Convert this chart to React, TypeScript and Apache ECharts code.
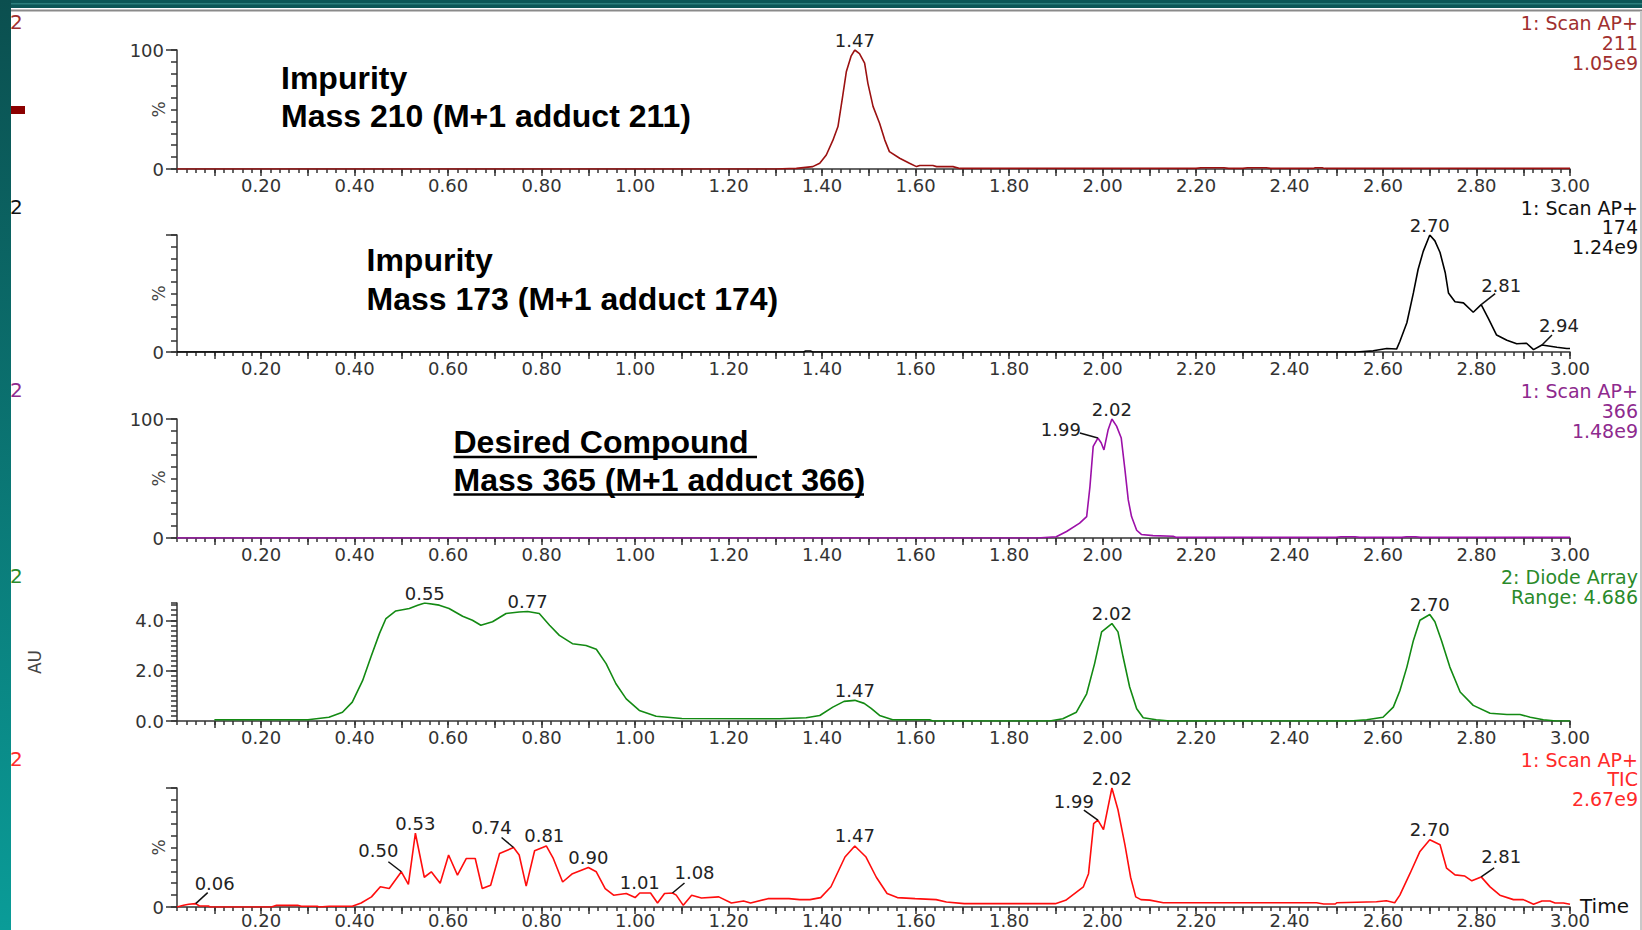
import React, { useEffect, useRef } from 'react';
import * as echarts from 'echarts';

// ---------- data: [retention time (min), response] ----------

// time axis labels / tick values
const timeLabelValues = [0.2, 0.4, 0.6, 0.8, 1.0, 1.2, 1.4, 1.6, 1.8, 2.0, 2.2, 2.4, 2.6, 2.8, 3.0];
const timeMajorTicks = [0.1, 0.2, 0.3, 0.4, 0.5, 0.6, 0.7, 0.8, 0.9, 1.0, 1.1, 1.2, 1.3, 1.4, 1.5, 1.6, 1.7, 1.8, 1.9, 2.0, 2.1, 2.2, 2.3, 2.4, 2.5, 2.6, 2.7, 2.8, 2.9, 3.0];

// 1: Scan AP+ 211 (%)
const scan211: [number, number][] = [
  [0.02, 0], [1.3, 0], [1.345, 0.5], [1.38, 2], [1.395, 4.8], [1.409, 11.8], [1.423, 24], [1.434, 35.7],
  [1.444, 61], [1.452, 82], [1.462, 94.8], [1.47, 100], [1.48, 97], [1.491, 89], [1.498, 72], [1.509, 52.6],
  [1.523, 38.5], [1.534, 24.5], [1.544, 14.6], [1.566, 9], [1.587, 4.8], [1.602, 2], [1.609, 3], [1.637, 3],
  [1.645, 2], [1.68, 2], [1.695, 0.5], [2.2, 0.5], [2.21, 1], [2.26, 1], [2.27, 0.5], [2.3, 0.5], [2.31, 1],
  [2.35, 1], [2.36, 0.5], [2.45, 0.5], [2.455, 1], [2.47, 1], [2.475, 0.5], [3.0, 0.5],
];
const scan211Peaks = [1.47];

// 1: Scan AP+ 174 (%)
const scan174: [number, number][] = [
  [0.02, 0], [1.36, 0], [1.365, 0.8], [1.375, 0.8], [1.38, 0], [2.543, 0], [2.579, 1], [2.608, 3],
  [2.629, 2.5], [2.636, 9], [2.651, 25], [2.665, 50.5], [2.675, 70.5], [2.686, 86], [2.7, 100], [2.711, 95],
  [2.722, 85], [2.733, 68], [2.74, 50.5], [2.754, 43], [2.772, 42], [2.793, 34], [2.81, 40.5], [2.825, 29],
  [2.843, 14.5], [2.865, 10], [2.886, 7], [2.907, 7.5], [2.922, 2], [2.94, 6], [2.972, 4], [2.993, 3], [3.0, 3],
];
const scan174Peaks = [2.7, 2.81, 2.94];

// 1: Scan AP+ 366 (%)
const scan366: [number, number][] = [
  [0.02, 0], [1.86, 0], [1.901, 1], [1.923, 5.5], [1.951, 12.5], [1.966, 18], [1.973, 43], [1.98, 77],
  [1.99, 84], [1.997, 80], [2.003, 74], [2.012, 91], [2.02, 100], [2.03, 94], [2.04, 84], [2.048, 57],
  [2.055, 32], [2.062, 18], [2.073, 6.5], [2.083, 3], [2.108, 2], [2.151, 1.5], [2.158, 0.5], [2.5, 0.5],
  [2.51, 1], [2.54, 1], [2.55, 0.5], [2.64, 0.5], [2.65, 1], [2.67, 1], [2.68, 0.5], [3.0, 0.5],
];
const scan366Peaks = [1.99, 2.02];

// 2: Diode Array (AU)
const diodeArray: [number, number][] = [
  [0.1, 0.05], [0.3, 0.05], [0.345, 0.15], [0.374, 0.35], [0.395, 0.75], [0.417, 1.6], [0.435, 2.55],
  [0.453, 3.47], [0.467, 4.07], [0.488, 4.37], [0.517, 4.47], [0.535, 4.6], [0.55, 4.686], [0.581, 4.6],
  [0.602, 4.47], [0.631, 4.16], [0.652, 4.0], [0.67, 3.8], [0.695, 3.94], [0.724, 4.27], [0.752, 4.33],
  [0.77, 4.35], [0.795, 4.27], [0.817, 3.8], [0.838, 3.4], [0.866, 3.07], [0.895, 3.0], [0.917, 2.85],
  [0.938, 2.28], [0.959, 1.48], [0.981, 0.88], [1.009, 0.42], [1.045, 0.19], [1.1, 0.1], [1.309, 0.09],
  [1.366, 0.13], [1.395, 0.22], [1.423, 0.55], [1.447, 0.78], [1.47, 0.82], [1.49, 0.7], [1.505, 0.5],
  [1.523, 0.22], [1.551, 0.05], [1.63, 0.05], [1.637, 0], [1.887, 0], [1.915, 0.09], [1.944, 0.35],
  [1.966, 1.08], [1.983, 2.28], [1.998, 3.54], [2.02, 3.87], [2.033, 3.54], [2.044, 2.54], [2.058, 1.35],
  [2.073, 0.49], [2.087, 0.13], [2.115, 0.05], [2.144, 0], [2.529, 0], [2.565, 0.05], [2.6, 0.15],
  [2.622, 0.55], [2.636, 1.2], [2.651, 2.14], [2.665, 3.2], [2.679, 4.0], [2.7, 4.23], [2.711, 3.94],
  [2.725, 3.2], [2.743, 2.14], [2.765, 1.15], [2.793, 0.62], [2.829, 0.31], [2.865, 0.26], [2.893, 0.26],
  [2.915, 0.15], [2.943, 0.05], [2.97, 0], [3.0, 0],
];
const diodePeaks = [0.55, 0.77, 1.47, 2.02, 2.7];

// 1: Scan AP+ TIC (%)
const tic: [number, number][] = [
  [0.02, 0], [0.034, 1.4], [0.045, 2.3], [0.06, 2.8], [0.068, 0.8], [0.087, 0.8], [0.091, 0], [0.222, 0],
  [0.233, 1.4], [0.278, 1.4], [0.286, 0.6], [0.32, 0.6], [0.324, 0], [0.346, 0.6], [0.395, 0.6], [0.414, 3.4],
  [0.436, 8.5], [0.455, 17], [0.474, 15.5], [0.5, 29.6], [0.515, 19], [0.53, 62], [0.549, 25], [0.564, 29.6],
  [0.583, 20], [0.601, 43.7], [0.62, 26.8], [0.639, 40.8], [0.658, 40.8], [0.673, 15.5], [0.691, 18.3],
  [0.71, 45], [0.74, 50], [0.752, 43.7], [0.767, 17.5], [0.785, 47.3], [0.81, 51.3], [0.825, 40.8],
  [0.845, 21], [0.866, 28], [0.9, 33.2], [0.917, 29.6], [0.936, 15.5], [0.954, 9.9], [0.981, 11.3],
  [1.0, 7.9], [1.01, 11.8], [1.033, 11.8], [1.048, 3.4], [1.063, 11.3], [1.08, 11.8], [1.088, 10],
  [1.103, 1.4], [1.121, 9.9], [1.142, 7.6], [1.179, 8.5], [1.206, 3.4], [1.232, 5], [1.247, 3.4],
  [1.284, 7], [1.329, 7], [1.352, 6.2], [1.374, 6.2], [1.397, 7.9], [1.419, 17], [1.449, 42], [1.47, 51.3],
  [1.494, 42], [1.516, 25], [1.539, 11.3], [1.561, 7.9], [1.599, 7], [1.644, 6.2], [1.666, 4.2], [1.704, 2.8],
  [1.899, 2.8], [1.921, 5.6], [1.959, 17], [1.97, 28], [1.981, 70], [1.99, 73], [2.002, 65], [2.02, 100],
  [2.033, 81.7], [2.048, 52], [2.06, 25], [2.071, 8.5], [2.082, 6.2], [2.101, 5.8], [2.13, 3.6], [2.458, 3.6],
  [2.473, 2.5], [2.498, 2.5], [2.501, 3.6], [2.586, 4.4], [2.607, 5.3], [2.625, 3.6], [2.636, 10],
  [2.658, 28.4], [2.679, 46.7], [2.7, 56.5], [2.722, 52.3], [2.736, 32.6], [2.754, 27], [2.775, 26],
  [2.79, 22], [2.81, 25.3], [2.829, 16.9], [2.85, 9.9], [2.879, 6.2], [2.9, 6.2], [2.922, 2.3], [2.94, 5.1],
  [2.957, 5.1], [2.968, 3.4], [2.986, 3.4], [3.0, 2.3],
];
const ticPeaks = [0.06, 0.5, 0.53, 0.74, 0.81, 0.9, 1.01, 1.08, 1.47, 1.99, 2.02, 2.7, 2.81];

// channel header texts
const scan211Title = ['1: Scan AP+', '211', '1.05e9'];
const scan174Title = ['1: Scan AP+', '174', '1.24e9'];
const scan366Title = ['1: Scan AP+', '366', '1.48e9'];
const diodeTitle = ['2: Diode Array', 'Range: 4.686'];
const ticTitle = ['1: Scan AP+', 'TIC', '2.67e9'];

// ---------- layout & styling ----------

// label placement per peak: [dx, dy, leaderDx, leaderDy] in px from the apex
const scan211LabelPos = [[0, -10, 0, 0]];
const scan174LabelPos = [[0, -10, 0, 0], [20, -19, 14, -11], [17, -19, 10, -10]];
const scan366LabelPos = [[-37, -9, -18, -5], [0, -10, 0, 0]];
const diodeLabelPos = [[0, -10, 0, 0], [0, -10, 0, 0], [0, -10, 0, 0], [0, -10, 0, 0], [0, -10, 0, 0]];
const ticLabelPos = [
  [19, -20, 12, -11], [-23, -21, -13, -10], [0, -10, 0, 0], [-22, -20, -12, -10], [-2, -10, 0, 0],
  [0, -10, 0, 0], [0, -10, 0, 0], [22, -20, 12, -10], [0, -10, 0, 0], [-24, -19, -14, -10],
  [0, -10, 0, 0], [0, -10, 0, 0], [20, -20, 13, -9],
];

const GRID_LEFT = 177;
const GRID_WIDTH = 1393;
const AXIS_COLOR = '#333';
const TEXT_FONT = '"DejaVu Sans", Verdana, sans-serif';

type Panel = {
  trace: [number, number][];
  peaks: number[];
  labelPos: number[][];
  title: string[];
  top: number;
  base: number;
  titleY: number;
  lineColor: string;
  textColor: string;
  yMax: number;
  yLabels: number[];
  yMajor: number[];
  yMinor: number;
  yDecimals: number;
  yName: string;
  xLabelMargin: number;
};

const panels: Panel[] = [
  { trace: scan211, peaks: scan211Peaks, labelPos: scan211LabelPos, title: scan211Title, top: 50, base: 169, titleY: 23,
    lineColor: '#9b1111', textColor: '#a03030', yMax: 100, yLabels: [0, 100], yMajor: [0, 100], yMinor: 10, yDecimals: 0, yName: '%', xLabelMargin: 7 },
  { trace: scan174, peaks: scan174Peaks, labelPos: scan174LabelPos, title: scan174Title, top: 235, base: 352, titleY: 207.5,
    lineColor: '#000000', textColor: '#111111', yMax: 100, yLabels: [0], yMajor: [0, 100], yMinor: 10, yDecimals: 0, yName: '%', xLabelMargin: 7 },
  { trace: scan366, peaks: scan366Peaks, labelPos: scan366LabelPos, title: scan366Title, top: 419, base: 538, titleY: 391,
    lineColor: '#9c10a8', textColor: '#8e2a8e', yMax: 100, yLabels: [0, 100], yMajor: [0, 100], yMinor: 10, yDecimals: 0, yName: '%', xLabelMargin: 7 },
  { trace: diodeArray, peaks: diodePeaks, labelPos: diodeLabelPos, title: diodeTitle, top: 603, base: 721, titleY: 577,
    lineColor: '#138a13', textColor: '#2a8a2a', yMax: 4.686, yLabels: [0, 2, 4], yMajor: [0, 2, 4], yMinor: 0.2, yDecimals: 1, yName: 'AU', xLabelMargin: 7 },
  { trace: tic, peaks: ticPeaks, labelPos: ticLabelPos, title: ticTitle, top: 788, base: 907, titleY: 759.5,
    lineColor: '#ff0d0d', textColor: '#ff2a2a', yMax: 100, yLabels: [0], yMajor: [0, 100], yMinor: 10, yDecimals: 0, yName: '%', xLabelMargin: 4 },
];

function valueAt(trace: [number, number][], t: number): number {
  for (let i = 0; i < trace.length; i++) {
    if (Math.abs(trace[i][0] - t) < 1e-9) return trace[i][1];
    if (i > 0 && trace[i - 1][0] < t && trace[i][0] > t) {
      const [x0, y0] = trace[i - 1];
      const [x1, y1] = trace[i];
      return y0 + ((t - x0) / (x1 - x0)) * (y1 - y0);
    }
  }
  return 0;
}

function buildOption() {
  const grid: any[] = [];
  const xAxis: any[] = [];
  const yAxis: any[] = [];
  const series: any[] = [];
  const graphic: any[] = [];
  const tickLine = { color: AXIS_COLOR, width: 1.5 };

  panels.forEach((p, i) => {
    grid.push({ left: GRID_LEFT, width: GRID_WIDTH, top: p.top, height: p.base - p.top, outerBoundsMode: 'none', containLabel: false });

    xAxis.push({
      gridIndex: i, type: 'value', min: 0.02, max: 3.0, position: 'bottom',
      axisLine: { show: true, onZero: false, lineStyle: { color: AXIS_COLOR, width: 1.5 } },
      axisTick: { show: true, customValues: timeMajorTicks, length: 7, lineStyle: tickLine },
      axisLabel: {
        show: true, customValues: timeLabelValues, margin: p.xLabelMargin, color: '#333', fontSize: 18, fontFamily: TEXT_FONT,
        lineHeight: 18, formatter: (v: number) => v.toFixed(2),
      },
      splitLine: { show: false },
    });
    xAxis.push({
      gridIndex: i, type: 'value', min: 0.02, max: 3.0, interval: 0.02, position: 'bottom',
      axisLine: { show: false, onZero: false },
      axisTick: { show: true, length: 4, lineStyle: tickLine },
      axisLabel: { show: false },
      splitLine: { show: false },
    });

    yAxis.push({
      gridIndex: i, type: 'value', min: 0, max: p.yMax, position: 'left',
      axisLine: { show: true, onZero: false, lineStyle: { color: AXIS_COLOR, width: 1.5 } },
      axisTick: { show: true, customValues: p.yMajor, length: 11, lineStyle: tickLine },
      axisLabel: {
        show: true, customValues: p.yLabels, margin: 13, color: '#333', fontSize: 18, fontFamily: TEXT_FONT,
        formatter: (v: number) => v.toFixed(p.yDecimals),
      },
      splitLine: { show: false },
    });
    yAxis.push({
      gridIndex: i, type: 'value', min: 0, max: p.yMax, interval: p.yMinor, position: 'left',
      axisLine: { show: false, onZero: false },
      axisTick: { show: true, length: 6, lineStyle: tickLine },
      axisLabel: { show: false },
      splitLine: { show: false },
    });

    series.push({
      type: 'line', xAxisIndex: 2 * i, yAxisIndex: 2 * i, data: p.trace, symbol: 'none', showSymbol: false,
      lineStyle: { color: p.lineColor, width: 1.6 }, silent: true, z: 3,
    });

    series.push({
      type: 'custom', coordinateSystem: 'cartesian2d', xAxisIndex: 2 * i, yAxisIndex: 2 * i,
      clip: false, silent: true, z: 5, encode: { x: 0, y: 1 },
      data: p.peaks.map((t, k) => [t, valueAt(p.trace, t), ...p.labelPos[k]]),
      renderItem: (_params: any, api: any) => {
        const t = api.value(0);
        const pt = api.coord([t, api.value(1)]);
        const dx = api.value(2), dy = api.value(3), lx = api.value(4), ly = api.value(5);
        const children: any[] = [{
          type: 'text',
          style: {
            x: pt[0] + dx, y: pt[1] + dy, text: Number(t).toFixed(2), fill: '#222',
            font: `18px ${TEXT_FONT}`, align: 'center', verticalAlign: 'middle',
            textAlign: 'center', textVerticalAlign: 'middle',
          },
        }];
        if (lx || ly) {
          children.push({
            type: 'line', shape: { x1: pt[0], y1: pt[1], x2: pt[0] + lx, y2: pt[1] + ly },
            style: { stroke: '#111', lineWidth: 1.5 },
          });
        }
        return { type: 'group', children };
      },
    });

    // channel header on the right
    p.title.forEach((line, k) => {
      graphic.push({
        type: 'text', z: 10,
        style: {
          x: 1638, y: p.titleY + k * 19.8, text: line, fill: p.textColor, font: `19px ${TEXT_FONT}`,
          lineHeight: 19, align: 'right', verticalAlign: 'middle', textAlign: 'right', textVerticalAlign: 'middle',
        },
      });
    });

    // function number on the left edge
    graphic.push({
      type: 'text', z: 10,
      style: {
        x: 10, y: p.titleY - 1, text: '2', fill: p.textColor, font: `20px ${TEXT_FONT}`,
        align: 'left', verticalAlign: 'middle', textAlign: 'left', textVerticalAlign: 'middle',
      },
    });

    // y-axis unit
    const unitX = p.yName === 'AU' ? 35 : 159;
    graphic.push({
      type: 'text', z: 10, x: unitX, y: (p.top + p.base) / 2, rotation: Math.PI / 2,
      style: {
        x: 0, y: 0, text: p.yName, fill: '#444', font: `17px ${TEXT_FONT}`,
        align: 'center', verticalAlign: 'middle', textAlign: 'center', textVerticalAlign: 'middle',
      },
    });
  });

  const boldFont = 'bold 32px "Liberation Sans", Arial, sans-serif';
  const note = (x: number, y: number, text: string) => ({
    type: 'text', z: 10,
    style: { x, y, text, fill: '#000', font: boldFont, align: 'left', verticalAlign: 'middle', textAlign: 'left', textVerticalAlign: 'middle' },
  });
  graphic.push(
    note(281, 77.5, 'Impurity'),
    note(281, 116, 'Mass 210 (M+1 adduct 211)'),
    note(366.5, 259.5, 'Impurity'),
    note(366.5, 298.5, 'Mass 173 (M+1 adduct 174)'),
    note(453.5, 442, 'Desired Compound '),
    note(453.5, 479.5, 'Mass 365 (M+1 adduct 366)'),
    { type: 'line', z: 10, shape: { x1: 453.5, y1: 457, x2: 757, y2: 457 }, style: { stroke: '#000', lineWidth: 2.5 } },
    { type: 'line', z: 10, shape: { x1: 453.5, y1: 494.5, x2: 864, y2: 494.5 }, style: { stroke: '#000', lineWidth: 2.5 } },
    {
      type: 'text', z: 10,
      style: { x: 1580, y: 906, text: 'Time', fill: '#111', font: `20px ${TEXT_FONT}`, align: 'left', verticalAlign: 'middle', textAlign: 'left', textVerticalAlign: 'middle' },
    },
    // window frame
    { type: 'rect', z: 20, shape: { x: 0, y: 0, width: 1642, height: 8 }, style: { fill: '#0c5757' } },
    { type: 'rect', z: 21, shape: { x: 0, y: 3, width: 1642, height: 1.5 }, style: { fill: '#2b7f7d' } },
    { type: 'rect', z: 20, shape: { x: 11, y: 9.5, width: 1631, height: 2 }, style: { fill: '#8a8a8a' } },
    { type: 'rect', z: 20, shape: { x: 1640, y: 11, width: 2, height: 919 }, style: { fill: '#c8c8c8' } },
    {
      type: 'rect', z: 22, shape: { x: 0, y: 0, width: 11, height: 930 },
      style: {
        fill: new echarts.graphic.LinearGradient(0, 0, 0, 1, [
          { offset: 0, color: '#0b4f4f' },
          { offset: 1, color: '#0a9c98' },
        ]),
      },
    },
    { type: 'rect', z: 20, shape: { x: 11, y: 106, width: 14, height: 8 }, style: { fill: '#8b0000' } },
  );

  return {
    animation: false,
    backgroundColor: '#ffffff',
    grid, xAxis, yAxis, series, graphic,
  };
}

export default function App() {
  const ref = useRef<HTMLDivElement>(null);

  useEffect(() => {
    document.body.style.margin = '0';
    if (!ref.current) return;
    const chart = echarts.init(ref.current, undefined, { renderer: 'svg' });
    chart.setOption(buildOption() as any);
    return () => chart.dispose();
  }, []);

  return (
    <div
      ref={ref}
      style={{ position: 'absolute', left: 0, top: 0, width: 1642, height: 930, overflow: 'hidden' }}
    />
  );
}
